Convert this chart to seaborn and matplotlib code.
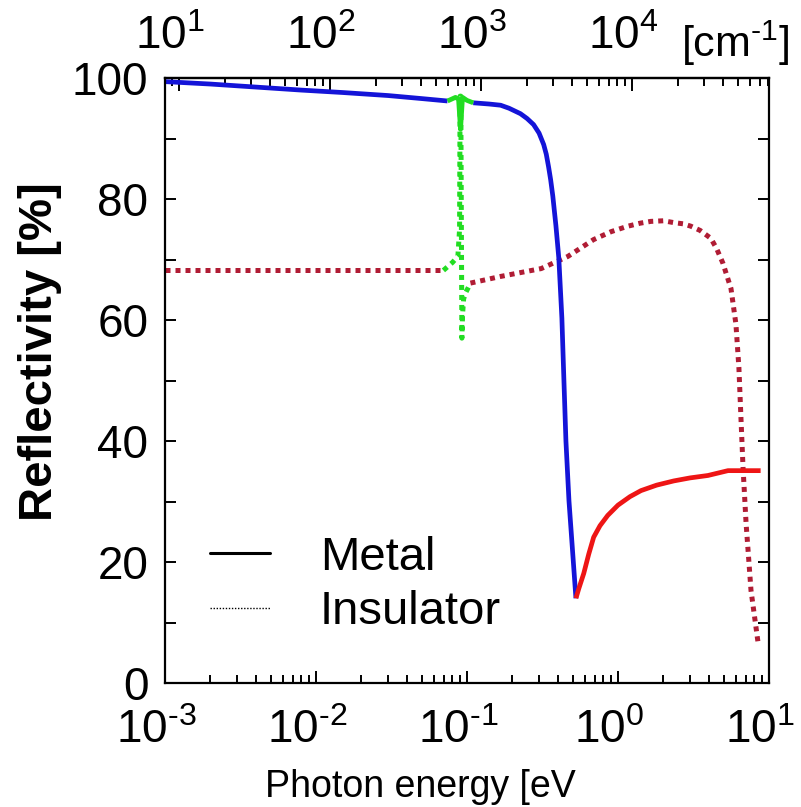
import numpy as np
import pandas as pd
import matplotlib
matplotlib.use("Agg")
import matplotlib.pyplot as plt
import matplotlib.transforms as mtransforms
import seaborn as sns
from matplotlib.lines import Line2D
from matplotlib.ticker import (LogLocator, MultipleLocator, NullFormatter,
                               FuncFormatter, FixedLocator)

# ---------------- data ----------------
# Metal reflectivity, low-energy (blue) part
metal_blue1_x = [0.001, 0.002, 0.004, 0.008, 0.015, 0.03, 0.05, 0.0743]
metal_blue1_y = [99.4, 99.0, 98.5, 98.0, 97.6, 97.1, 96.6, 96.2]
# Metal, phonon region (green)
metal_green_x = [0.0743, 0.0839, 0.0879, 0.0906, 0.0934, 0.100, 0.110]
metal_green_y = [96.2, 96.8, 96.5, 91.5, 96.8, 96.3, 95.9]
# Metal, plasma edge (blue)
metal_blue2_x = [0.110, 0.140, 0.167, 0.190, 0.226, 0.250, 0.276, 0.300, 0.322,
                 0.335, 0.347, 0.358, 0.370, 0.388, 0.4056, 0.425, 0.4385,
                 0.452, 0.4735, 0.5035, 0.5265]
metal_blue2_y = [95.9, 95.7, 95.5, 95.0, 94.1, 93.3, 92.3, 90.9, 89.0,
                 87.4, 85.3, 83.2, 80.5, 75.6, 70.2, 60.3, 49.9,
                 40.0, 30.1, 20.8, 14.0]
# Metal, above the plasma edge (red)
metal_red_x = [0.5265, 0.55, 0.593, 0.64, 0.69, 0.76, 0.855, 1.0, 1.2, 1.42,
               1.8, 2.34, 3.0, 3.94, 5.35, 8.8]
metal_red_y = [14.0, 15.6, 18.1, 21.3, 24.1, 26.0, 27.7, 29.4, 30.8, 31.8,
               32.7, 33.4, 33.9, 34.3, 35.1, 35.1]

# Insulator reflectivity (dotted)
ins_red1_x = [0.001, 0.003, 0.01, 0.03, 0.0698]
ins_red1_y = [68.2, 68.2, 68.2, 68.2, 68.2]
ins_green_x = [0.0698, 0.080, 0.087, 0.0893, 0.0900, 0.0910, 0.0918, 0.0925,
               0.0935, 0.0950, 0.098, 0.1054]
ins_green_y = [68.2, 69.5, 70.5, 75.0, 97.0, 97.0, 75.0, 57.0,
               61.0, 63.5, 64.5, 66.1]
ins_red2_x = [0.1054, 0.167, 0.31, 0.465, 0.69, 0.9, 1.16, 1.4, 1.65, 2.0,
              2.34, 2.7, 3.04, 3.5, 4.12, 4.5, 4.95, 5.6, 6.04, 6.32, 6.52,
              6.73, 7.05, 7.6, 8.45]
ins_red2_y = [66.1, 67.2, 68.5, 70.5, 73.3, 74.6, 75.5, 76.0, 76.3, 76.4,
              76.1, 75.9, 75.5, 74.8, 73.5, 71.8, 69.4, 65.2, 59.3, 52.1, 43.8,
              35.6, 26.4, 15.3, 6.8]

legend_labels = ["Metal", "Insulator"]
ev_ticks = [1e-3, 1e-2, 1e-1, 1e0, 1e1]
cm_ticks = [1e1, 1e2, 1e3, 1e4]
ev_to_cm = 8065.5

# ---------------- style ----------------
sns.set_style("ticks")
plt.rcParams["font.family"] = ["Liberation Sans", "DejaVu Sans"]
plt.rcParams["mathtext.fontset"] = "custom"
plt.rcParams["mathtext.rm"] = "Liberation Sans"
plt.rcParams["mathtext.it"] = "Liberation Sans:italic"
plt.rcParams["mathtext.bf"] = "Liberation Sans:bold"
plt.rcParams["mathtext.default"] = "regular"
for k in ["text.color", "axes.labelcolor", "xtick.color", "ytick.color",
          "axes.edgecolor"]:
    plt.rcParams[k] = "black"

W, H = 801, 807
fig = plt.figure(figsize=(W / 100, H / 100), dpi=100)
L, R, T, B = 165, 769, 78, 683
ax = fig.add_axes([L / W, 1 - B / H, (R - L) / W, (B - T) / H])

BLUE = "#1414d8"
RED = "#ee1515"
GREEN = "#22dd22"
DRED = "#b01c34"

solid_kw = dict(linewidth=3.4, solid_capstyle="butt", solid_joinstyle="round")
dot_kw = dict(linewidth=3.6, dashes=(1.0, 1.0), dash_capstyle="butt")

def seg(x, y, color, kw):
    df = pd.DataFrame({"x": x, "y": y})
    sns.lineplot(data=df, x="x", y="y", ax=ax, color=color, estimator=None,
                 sort=False, legend=False, **kw)

seg(ins_red1_x, ins_red1_y, DRED, dot_kw)
seg(ins_red2_x, ins_red2_y, DRED, dot_kw)
seg(ins_green_x, ins_green_y, GREEN, dot_kw)
seg(metal_blue1_x, metal_blue1_y, BLUE, solid_kw)
seg(metal_blue2_x, metal_blue2_y, BLUE, solid_kw)
seg(metal_red_x, metal_red_y, RED, solid_kw)
seg(metal_green_x, metal_green_y, GREEN, solid_kw)

ax.set_xscale("log")
ax.set_xlim(1e-3, 10)
ax.set_ylim(0, 100)
ax.yaxis.set_major_locator(MultipleLocator(20))
ax.yaxis.set_minor_locator(MultipleLocator(10))
ax.xaxis.set_major_locator(FixedLocator(ev_ticks))
ax.xaxis.set_minor_locator(LogLocator(base=10, subs=np.arange(2, 10), numticks=20))
ax.xaxis.set_minor_formatter(NullFormatter())

def pow_fmt(v, pos):
    e = int(round(np.log10(v)))
    s = str(e).replace("-", "\u2010")
    return r"$10^{%s}$" % s

ax.xaxis.set_major_formatter(FuncFormatter(pow_fmt))

for s in ax.spines.values():
    s.set_linewidth(1.6)
    s.set_color("black")

tick_fs = 33
ax.tick_params(axis="both", which="both", direction="in", top=False, right=True,
               width=1.4, colors="black", labelsize=tick_fs)
ax.tick_params(axis="y", which="major", length=8, pad=12)
ax.tick_params(axis="y", which="minor", length=8)
ax.tick_params(axis="x", which="major", length=9, pad=19)
ax.tick_params(axis="x", which="minor", length=6)

# top axis in wavenumbers
sec = ax.secondary_xaxis("top", functions=(lambda e: e * ev_to_cm,
                                           lambda k: k / ev_to_cm))
sec.xaxis.set_major_locator(FixedLocator(cm_ticks))
sec.xaxis.set_minor_locator(LogLocator(base=10, subs=np.arange(2, 10), numticks=20))
sec.xaxis.set_minor_formatter(NullFormatter())
sec.xaxis.set_major_formatter(FuncFormatter(pow_fmt))
sec.tick_params(axis="x", which="both", direction="in", width=1.4,
                labelsize=tick_fs, colors="black")
sec.tick_params(axis="x", which="major", length=9, pad=14)
sec.tick_params(axis="x", which="minor", length=6)
sec.spines["top"].set_linewidth(1.6)
fig.text(681 / W, 1 - 57 / H, "[cm$^{\u20101}$]", fontsize=31, ha="left",
         va="baseline")

# axis labels
ax.set_xlabel("Photon energy [eV", fontsize=27, va="baseline", ha="left")
ax.xaxis.set_label_coords((265 - L) / (R - L), (B - 797) / (B - T))
ax.set_ylabel("Reflectivity [%]", fontsize=34, fontweight="bold", va="center")
ax.yaxis.set_label_coords((40 - L) / (R - L), (B - 352) / (B - T))

# legend
handles = [Line2D([], [], color="black", linewidth=2.2),
           Line2D([], [], color="black", linewidth=1.0, linestyle=(0, (1, 1.2)))]
ax.legend(handles, legend_labels, loc="center left",
          bbox_to_anchor=((210 - L) / (R - L), (B - 585) / (B - T)),
          frameon=False, fontsize=34, handlelength=1.28, handletextpad=1.05,
          labelspacing=0.22, borderpad=0, borderaxespad=0)

# the reference's power-of-ten labels sit a little left of their ticks
fig.canvas.draw()
shift = mtransforms.ScaledTranslation(-9 / 100, 0, fig.dpi_scale_trans)
for t in ax.xaxis.get_major_ticks() + sec.xaxis.get_major_ticks():
    t.label1.set_transform(t.label1.get_transform() + shift)
    t.label2.set_transform(t.label2.get_transform() + shift)

fig.savefig("out.png", dpi=100)
